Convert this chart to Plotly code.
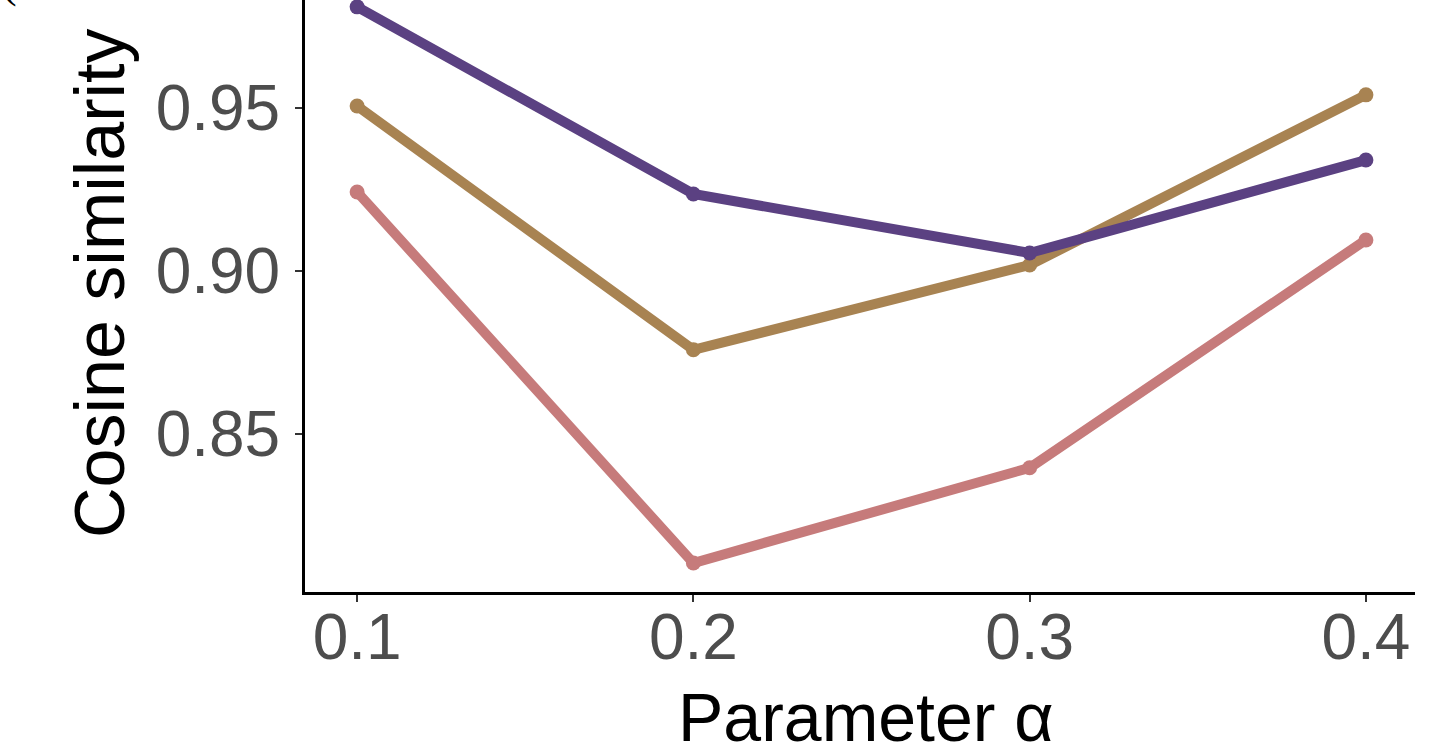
import plotly.graph_objects as go

alpha = [0.1, 0.2, 0.3, 0.4]
series_purple = [0.981, 0.9236, 0.9055, 0.934]
series_gold = [0.9506, 0.8758, 0.9018, 0.954]
series_pink = [0.9242, 0.8104, 0.8396, 0.9095]
x_ticks = [0.1, 0.2, 0.3, 0.4]
x_tick_labels = ["0.1", "0.2", "0.3", "0.4"]
y_ticks = [0.85, 0.90, 0.95]
y_tick_labels = ["0.85", "0.90", "0.95"]

colors = {"purple": "#5B4182", "gold": "#A88352", "pink": "#C67B7B"}

W, H = 1429, 751
L, R, T, B = 305, 14, 0, 159
pw, ph = W - L - R, H - T - B

fig = go.Figure()
for vals, col in [(series_pink, colors["pink"]), (series_gold, colors["gold"]), (series_purple, colors["purple"])]:
    fig.add_trace(go.Scatter(
        x=alpha, y=vals, mode="lines+markers",
        line=dict(color=col, width=10),
        marker=dict(color=col, size=15),
        showlegend=False,
    ))

font_family = "Liberation Sans, Arial, sans-serif"

fig.update_layout(
    width=W, height=H,
    margin=dict(l=L, r=R, t=T, b=B),
    paper_bgcolor="white", plot_bgcolor="white",
    font=dict(family=font_family),
    xaxis=dict(
        range=[0.0845, 0.4146],
        tickvals=x_ticks, ticktext=x_tick_labels,
        showgrid=False, zeroline=False,
        showline=True, linecolor="black", linewidth=3,
        ticks="outside", ticklen=7, tickwidth=2, tickcolor="#333333",
        tickfont=dict(size=64, color="#4D4D4D", family=font_family),
        ticklabelstandoff=-20,
    ),
    yaxis=dict(
        range=[0.8015, 0.9831],
        tickvals=y_ticks, ticktext=y_tick_labels,
        showgrid=False, zeroline=False,
        showline=True, linecolor="black", linewidth=3,
        ticks="outside", ticklen=7, tickwidth=2, tickcolor="#333333",
        tickfont=dict(size=64, color="#4D4D4D", family=font_family),
        ticklabelstandoff=2,
    ),
    annotations=[
        dict(text="Cosine similarity", textangle=-90, showarrow=False,
             xref="paper", yref="paper",
             x=(100 - L) / pw, y=(ph - 283) / ph,
             xanchor="center", yanchor="middle",
             font=dict(size=70, color="black", family=font_family)),
        dict(text="Parameter α", showarrow=False,
             xref="paper", yref="paper",
             x=(866 - L) / pw, y=(ph - 717) / ph,
             xanchor="center", yanchor="middle",
             font=dict(size=68, color="black", family=font_family)),
        dict(text="(", showarrow=False,
             xref="paper", yref="paper",
             x=(0 - L) / pw, y=1, yshift=-9,
             xanchor="left", yanchor="bottom",
             font=dict(size=44, color="black", family="Liberation Serif, serif")),
    ],
)

fig.write_html("out.html", config={"displayModeBar": False},
               post_script="document.body.style.margin='0';")
